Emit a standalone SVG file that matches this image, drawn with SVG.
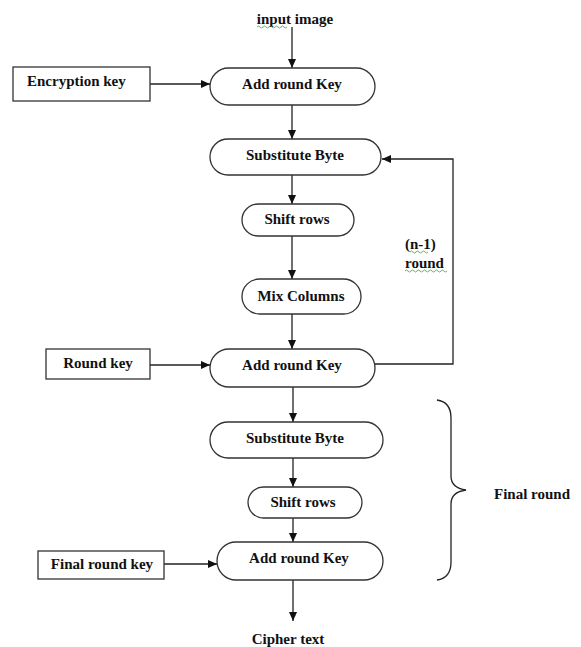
<svg xmlns="http://www.w3.org/2000/svg" width="581" height="647" viewBox="0 0 581 647">
<style>
text{font-family:"Liberation Serif","Times New Roman",serif;font-weight:bold;font-size:15px;fill:#111;}
.c{text-anchor:middle;}
.box{fill:#fff;stroke:#333;stroke-width:1.3;}
.ln{fill:none;stroke:#222;stroke-width:1.3;}
.sq{fill:none;stroke:#3a3;stroke-width:0.8;}
</style>
<defs>
<marker id="ah" markerWidth="10" markerHeight="8" refX="9" refY="4" orient="auto" markerUnits="userSpaceOnUse">
<path d="M0,0 L9,4 L0,8 Z" fill="#111"/>
</marker>
</defs>
<rect width="581" height="647" fill="#fff"/>
<g id="connectors">
<line class="ln" x1="292" y1="27" x2="292" y2="68" marker-end="url(#ah)"/>
<line class="ln" x1="150" y1="84" x2="210" y2="84" marker-end="url(#ah)"/>
<line class="ln" x1="292" y1="105" x2="292" y2="139" marker-end="url(#ah)"/>
<line class="ln" x1="292" y1="175" x2="292" y2="204" marker-end="url(#ah)"/>
<line class="ln" x1="292" y1="236" x2="292" y2="279" marker-end="url(#ah)"/>
<line class="ln" x1="292" y1="314" x2="292" y2="349" marker-end="url(#ah)"/>
<line class="ln" x1="150" y1="365" x2="210" y2="365" marker-end="url(#ah)"/>
<polyline class="ln" points="375,364 453,364 453,159 382,159" marker-end="url(#ah)"/>
<line class="ln" x1="293" y1="387" x2="293" y2="422" marker-end="url(#ah)"/>
<line class="ln" x1="293" y1="458" x2="293" y2="487" marker-end="url(#ah)"/>
<line class="ln" x1="293" y1="518" x2="293" y2="542" marker-end="url(#ah)"/>
<line class="ln" x1="164" y1="564" x2="217" y2="564" marker-end="url(#ah)"/>
<line class="ln" x1="293" y1="580" x2="293" y2="621" marker-end="url(#ah)"/>
</g>
<g id="input">
<text class="c" x="295" y="24">input image</text>
<path class="sq" d="M257,27 q1.5,-2 3,0 t3,0 t3,0 t3,0 t3,0 t3,0 t3,0 t3,0 t3,0 t3,0"/>
</g>
<g id="enc-key">
<rect class="box" x="13" y="67" width="137" height="34"/>
<text x="27" y="86">Encryption key</text>
</g>
<g id="add1">
<rect class="box" x="210" y="68" width="165" height="37" rx="18.5"/>
<text class="c" x="292" y="89">Add round Key</text>
</g>
<g id="sub1">
<rect class="box" x="210" y="139" width="171" height="36" rx="18"/>
<text class="c" x="295" y="160">Substitute Byte</text>
</g>
<g id="shift1">
<rect class="box" x="242" y="204" width="112" height="32" rx="16"/>
<text class="c" x="297" y="224">Shift rows</text>
</g>
<g id="mix">
<rect class="box" x="242" y="279" width="119" height="35" rx="17.5"/>
<text class="c" x="301" y="301">Mix Columns</text>
</g>
<g id="round-key">
<rect class="box" x="46" y="349" width="104" height="30"/>
<text class="c" x="98" y="368">Round key</text>
</g>
<g id="add2">
<rect class="box" x="210" y="349" width="165" height="38" rx="19"/>
<text class="c" x="292" y="370">Add round Key</text>
</g>
<g id="n1-round">
<text x="405" y="249">(n-1)</text>
<text x="405" y="268">round</text>
<path class="sq" d="M410,252 q1.5,-2 3,0 t3,0 t3,0 t3,0 t3,0 t3,0"/>
<path class="sq" d="M405,271 q1.5,-2 3,0 t3,0 t3,0 t3,0 t3,0 t3,0 t3,0 t3,0 t3,0 t3,0 t3,0 t3,0 t3,0 t3,0"/>
</g>
<g id="sub2">
<rect class="box" x="210" y="422" width="173" height="36" rx="18"/>
<text class="c" x="295" y="443">Substitute Byte</text>
</g>
<g id="shift2">
<rect class="box" x="248" y="487" width="114" height="31" rx="15.5"/>
<text class="c" x="303" y="507">Shift rows</text>
</g>
<g id="final-key">
<rect class="box" x="38" y="551" width="126" height="28"/>
<text class="c" x="102" y="569">Final round key</text>
</g>
<g id="add3">
<rect class="box" x="217" y="542" width="166" height="38" rx="19"/>
<text class="c" x="299" y="563">Add round Key</text>
</g>
<g id="cipher">
<text class="c" x="288" y="644">Cipher text</text>
</g>
<g id="final-round">
<path class="ln" d="M437,400 Q451,402 451,418 L451,476 Q451,488 466,490 Q451,492 451,504 L451,562 Q451,578 437,580"/>
<text x="494" y="499">Final round</text>
</g>
</svg>
